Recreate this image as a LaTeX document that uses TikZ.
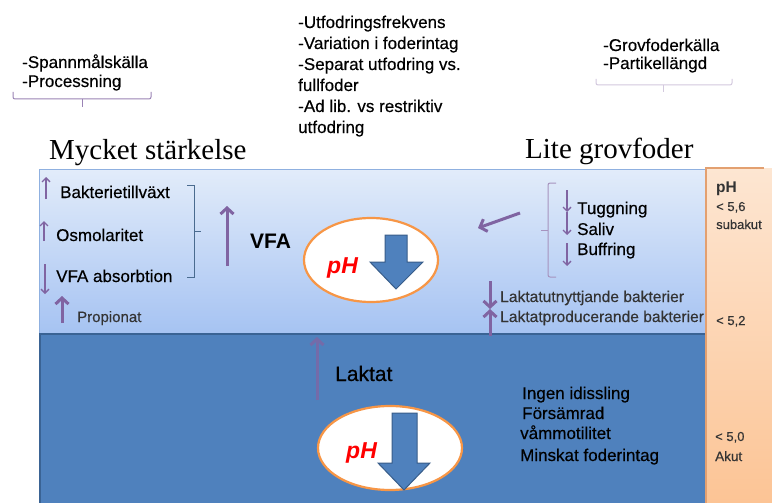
\documentclass[tikz,border=0pt]{standalone}
\usepackage{fontspec}
\setmainfont{Liberation Serif}
\setsansfont{Liberation Sans}
\newfontfamily\lblfont[FakeBold=0.35]{Liberation Sans}
\usetikzlibrary{arrows.meta,shapes.geometric}
\definecolor{purp}{HTML}{8064A2}
\definecolor{upTop}{HTML}{E2ECFA}
\definecolor{upBot}{HTML}{A6C3F2}
\definecolor{upEdge}{HTML}{8FB0E0}
\definecolor{lowBlue}{HTML}{4F81BD}
\definecolor{lowEdge}{HTML}{3A6394}
\definecolor{phTop}{HTML}{FDE6D2}
\definecolor{phBot}{HTML}{FCC495}
\definecolor{phEdge}{HTML}{E3A070}
\definecolor{ellEdge}{HTML}{F79646}
\definecolor{arrEdge}{HTML}{385D8A}
\definecolor{brk}{HTML}{4A6B8F}
\definecolor{txtgray}{HTML}{333333}
\tikzset{
  sz/.style={font=\lblfont\fontsize{#1}{#1}\selectfont},
  lbl/.style={inner sep=0pt, anchor=base west, text=black},
  thinarr/.style={purp, line width=1.4pt, -{Straight Barb[length=4pt,width=8pt]}},
  thickarr/.style={purp, line width=3pt, -{Straight Barb[length=6pt,width=13pt]}},
  ellipsebox/.style={draw=ellEdge, line width=2.2pt, fill=white, shape=ellipse, inner sep=0pt},
  blockarrow/.style={fill=lowBlue, draw=arrEdge, line width=1pt},
  phlbl/.style={inner sep=0pt, anchor=base west, text=red, font=\sffamily\bfseries\itshape\fontsize{23}{23}\selectfont},
}
\begin{document}
\begin{tikzpicture}[x=1pt,y=-1pt]
\useasboundingbox (0,0) rectangle (772,503);
\fill[white] (0,0) rectangle (772,503);

% ---- background panels ----
\shade[top color=upTop, bottom color=upBot] (39,169) rectangle (706,333);
\draw[upEdge, line width=1pt] (39,333) -- (39,169) -- (706,169);
\fill[lowBlue] (39,333) rectangle (706,503);
\draw[lowEdge, line width=2.5pt] (40,503) -- (40,334) -- (706,334);
\shade[top color=phTop, bottom color=phBot] (706,168) rectangle (772,503);
\draw[phEdge, line width=1.2pt] (706,503) -- (706,168) -- (764,168);

% ---- top annotations ----
\node[lbl, sz=17] (t1) at (22,68) {-Spannmålskälla};
\node[lbl, sz=17] (t2) at (22,87) {-Processning};
\draw[purp!80, line width=1pt, rounded corners=2pt] (13,92) -- (13,99) -- (151,99) -- (151,92);
\draw[purp!80, line width=1pt] (82,99) -- (82,107);

\node[lbl, sz=17] (c1) at (298,28) {-Utfodringsfrekvens};
\node[lbl, sz=17] (c2) at (298,49) {-Variation i foderintag};
\node[lbl, sz=17] (c3) at (298,70) {-Separat utfodring vs.};
\node[lbl, sz=17] (c4) at (298,91) {fullfoder};
\node[lbl, sz=17] (c5) at (298,112) {-Ad lib. vs restriktiv};
\node[lbl, sz=17] (c6) at (298,133) {utfodring};

\node[lbl, sz=17] (r1) at (603,51) {-Grovfoderkälla};
\node[lbl, sz=17] (r2) at (603,69) {-Partikellängd};
\draw[purp!35, line width=1pt, rounded corners=2pt] (596,79) -- (596,85) -- (732,85) -- (732,79);
\draw[purp!35, line width=1pt] (663,85) -- (663,92);

\node[lbl, font=\rmfamily\fontsize{29}{29}\selectfont] (ms) at (49,159) {Mycket stärkelse};
\node[lbl, font=\rmfamily\fontsize{29}{29}\selectfont] (lg) at (525,158) {Lite grovfoder};

% ---- upper panel, left ----
\coordinate (a1s) at (46,199); \coordinate (a1e) at (46,177);
\draw[thinarr] (a1s) -- (a1e);
\node[lbl, sz=17] (bak) at (60,198) {Bakterietillväxt};
\coordinate (a2s) at (44,241); \coordinate (a2e) at (44,221);
\draw[thinarr] (a2s) -- (a2e);
\node[lbl, sz=17] (osm) at (56,241) {Osmolaritet};
\coordinate (a3s) at (45,264); \coordinate (a3e) at (45,294);
\draw[thinarr] (a3s) -- (a3e);
\node[lbl, sz=17] (vfaabs) at (56,282) {VFA absorbtion};
\coordinate (a4s) at (62,323); \coordinate (a4e) at (62,296);
\draw[thickarr] (a4s) -- (a4e);
\node[lbl, sz=15, text=txtgray] (prop) at (77,322) {Propionat};

\draw[brk, line width=1pt] (187,185) -- (194,185) -- (194,277) -- (187,277);
\draw[brk, line width=1pt] (194,231) -- (201,231);

\coordinate (vas) at (227,266); \coordinate (vae) at (227,206);
\draw[thickarr] (vas) -- (vae);
\node[lbl, font=\sffamily\bfseries\fontsize{21}{21}\selectfont] (vfa) at (250,248) {VFA};

% ---- upper ellipse ----
\node[ellipsebox, minimum width=134pt, minimum height=84pt] (ell1) at (371,260) {};
\node[phlbl] (ph1) at (327,273) {pH};
\draw[blockarrow] (385,235) -- (407,235) -- (407,262) -- (423,262) -- (396,289) -- (370,262) -- (385,262) -- cycle;

% ---- upper panel, right ----
\coordinate (ls) at (520,213); \coordinate (le) at (478,228);
\draw[thickarr] (ls) -- (le);
\draw[purp!70, line width=1pt, rounded corners=2pt] (556,183) -- (548,183) -- (548,277) -- (556,277);
\draw[purp!70, line width=1pt] (548,230) -- (541,230);
\coordinate (d1s) at (567,190); \coordinate (d1e) at (567,212);
\draw[thinarr] (d1s) -- (d1e);
\coordinate (d2s) at (567,212); \coordinate (d2e) at (567,235);
\draw[thinarr] (d2s) -- (d2e);
\coordinate (d3s) at (567,243); \coordinate (d3e) at (567,266);
\draw[thinarr] (d3s) -- (d3e);
\node[lbl, sz=17] (tug) at (577,214) {Tuggning};
\node[lbl, sz=17] (sal) at (577,235) {Saliv};
\node[lbl, sz=17] (buf) at (577,255) {Buffring};

\coordinate (k1s) at (490,281); \coordinate (k1e) at (490,309);
\draw[thickarr] (k1s) -- (k1e);
\coordinate (k2s) at (490,336); \coordinate (k2e) at (490,309);
\draw[thickarr] (k2s) -- (k2e);
\node[lbl, sz=15.6, text=txtgray] (lu) at (500,302) {Laktatutnyttjande bakterier};
\node[lbl, sz=15.6, text=txtgray] (lp) at (500,322) {Laktatproducerande bakterier};

% ---- pH column ----
\node[lbl, font=\sffamily\bfseries\fontsize{15.5}{15.5}\selectfont, text=txtgray] (phh) at (716,192) {pH};
\node[lbl, sz=13, text=txtgray] (p56) at (716,211) {< 5,6};
\node[lbl, sz=13, text=txtgray] (sub) at (716,229) {subakut};
\node[lbl, sz=13, text=txtgray] (p52) at (716,325) {< 5,2};
\node[lbl, sz=13, text=txtgray] (p50) at (715,441) {< 5,0};
\node[lbl, sz=13.5, text=txtgray] (akut) at (715,461) {Akut};

% ---- lower panel ----
\coordinate (lks) at (317,400); \coordinate (lke) at (317,337);
\draw[purp!75!lowBlue, line width=3pt, -{Straight Barb[length=6pt,width=13pt]}] (lks) -- (lke);
\node[lbl, sz=21] (lak) at (335,381) {Laktat};

\node[ellipsebox, minimum width=144pt, minimum height=84pt] (ell2) at (390,448) {};
\node[phlbl] (ph2) at (346,458) {pH};
\draw[blockarrow] (392,413) -- (417,413) -- (417,463) -- (430,463) -- (404,490) -- (378,463) -- (392,463) -- cycle;

\node[lbl, sz=17] (ing) at (522,399) {Ingen idissling};
\node[lbl, sz=17] (for) at (522,419) {Försämrad};
\node[lbl, sz=17] (vam) at (520,439) {våmmotilitet};
\node[lbl, sz=17] (min) at (520,461) {Minskat foderintag};
\end{tikzpicture}
\end{document}
